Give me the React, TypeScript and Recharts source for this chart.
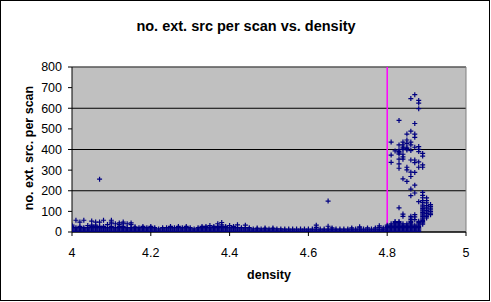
import {
  CartesianGrid,
  ReferenceLine,
  Scatter,
  ScatterChart,
  XAxis,
  YAxis
} from 'recharts';

// scan density columns below the 4.8 cut, 0.01 apart
const lowDensity = [
  4.0, 4.01, 4.02, 4.03, 4.04, 4.05, 4.06, 4.07, 4.08, 4.09,
  4.1, 4.11, 4.12, 4.13, 4.14, 4.15, 4.16, 4.17, 4.18, 4.19,
  4.2, 4.21, 4.22, 4.23, 4.24, 4.25, 4.26, 4.27, 4.28, 4.29,
  4.3, 4.31, 4.32, 4.33, 4.34, 4.35, 4.36, 4.37, 4.38, 4.39,
  4.4, 4.41, 4.42, 4.43, 4.44, 4.45, 4.46, 4.47, 4.48, 4.49,
  4.5, 4.51, 4.52, 4.53, 4.54, 4.55, 4.56, 4.57, 4.58, 4.59,
  4.6, 4.61, 4.62, 4.63, 4.64, 4.65, 4.66, 4.67, 4.68, 4.69,
  4.7, 4.71, 4.72, 4.73, 4.74, 4.75, 4.76, 4.77, 4.78, 4.79
];

const lowCounts = [
  [3, 9, 15, 21, 27, 33], [3, 9, 15, 21, 57], [3, 9, 15, 21, 27, 48], [3, 9, 15, 21, 57],
  [3, 9, 15, 21, 31], [3, 9, 15, 21, 27, 33, 53], [3, 9, 15, 21, 27, 33, 48], [3, 9, 15, 21, 27, 48, 256],
  [3, 9, 15, 21, 27, 57], [3, 9, 15, 21, 36],
  [3, 9, 15, 21, 27, 40, 48, 57], [3, 9, 15, 21, 40], [3, 9, 15, 21, 27, 36, 44], [3, 9, 15, 21, 27, 40, 48],
  [3, 9, 15, 21, 40], [3, 9, 15, 21, 36, 44], [3, 9, 15, 21, 25], [3, 9, 15, 21],
  [3, 9, 15, 21, 27], [3, 9, 15, 21],
  [3, 9, 15, 21, 27], [3, 9, 15, 21], [3, 9, 15], [3, 9, 15, 21],
  [3, 9, 15, 21], [3, 9, 15, 21, 27], [3, 9, 15, 21], [3, 9, 15, 21, 27],
  [3, 9, 15, 21], [3, 9, 15, 21, 27],
  [3, 9, 15, 21], [3, 9, 15], [3, 9, 15, 21], [3, 9, 15, 21, 27],
  [3, 9, 15, 21, 27], [3, 9, 15, 21, 31], [3, 9, 15, 21, 27], [3, 9, 15, 21, 27, 40],
  [3, 9, 15, 21, 27, 35, 46], [3, 9, 15, 21, 27],
  [3, 9, 15, 21, 31], [3, 9, 15, 21, 27], [3, 9, 15, 21, 35], [3, 9, 15, 21],
  [3, 9, 15, 21, 33], [3, 9, 15, 21], [3, 9, 15], [3, 9, 15, 19],
  [3, 9, 15], [3, 9, 15, 19],
  [3, 9, 15], [3, 9, 15, 19], [3, 9, 15], [3, 9, 15],
  [3, 9, 14], [3, 9, 14], [3, 9, 14], [3, 9, 14],
  [3, 9, 14], [3, 9, 14],
  [3, 9, 14], [3, 9, 14], [3, 9, 14, 22, 33], [3, 9, 14],
  [3, 9, 14], [3, 9, 14, 28, 150], [3, 9, 14, 20], [3, 9, 14],
  [3, 9, 14], [3, 9, 14],
  [3, 9, 14], [3, 9, 14, 20], [3, 9, 14], [3, 9, 14, 20, 25],
  [3, 9, 14], [3, 9, 14, 20], [3, 9, 14], [3, 9, 14, 20],
  [3, 9, 14, 22, 30], [3, 9, 14, 20]
];

// the dense group just above the cut
const peakDensity = [4.8, 4.81, 4.82, 4.83, 4.84, 4.85, 4.86, 4.87, 4.88, 4.89, 4.9, 4.91];

const peakCounts = [
  [3, 9, 15, 21, 27, 33],
  [3, 9, 15, 21, 27, 33, 40, 338, 373, 436],
  [3, 9, 15, 21, 27, 33, 39, 45, 51, 393],
  [3, 9, 15, 21, 27, 33, 39, 45, 51, 117, 309, 330, 353, 378, 384, 390, 398, 422, 541],
  [3, 9, 15, 21, 27, 33, 40, 76, 87, 258, 353, 364, 377, 400, 406, 412, 422, 436],
  [3, 9, 15, 21, 27, 33, 40, 245, 301, 314, 398, 404, 411, 430, 446, 475],
  [3, 9, 15, 21, 27, 33, 39, 45, 52, 60, 68, 76, 176, 208, 269, 290, 349, 395, 422, 436, 489, 647],
  [3, 9, 15, 21, 27, 33, 60, 73, 84, 189, 227, 289, 336, 349, 411, 459, 475, 526, 666],
  [3, 9, 15, 21, 27, 33, 39, 45, 52, 147, 314, 340, 390, 401, 414, 598, 625, 638],
  [38, 44, 50, 56, 62, 68, 75, 82, 88, 95, 102, 108, 115, 122, 130, 142, 152, 166, 178, 192, 314, 325, 368, 381],
  [68, 75, 82, 90, 97, 104, 112, 120, 128, 141, 152, 165],
  [84, 92, 100, 108, 116, 124, 133]
];

const xTicks = [4, 4.2, 4.4, 4.6, 4.8, 5];
const yTicks = [0, 100, 200, 300, 400, 500, 600, 700, 800];

const toPoints = (dens: number[], counts: number[][]) =>
  dens.flatMap((d, i) => counts[i].map((c) => ({ density: d, count: c })));

const points = [...toPoints(lowDensity, lowCounts), ...toPoints(peakDensity, peakCounts)];

const font = '"Liberation Sans", Arial, sans-serif';

const PlusMark = (props: any) => {
  const { cx, cy } = props;
  if (cx == null || cy == null) return null;
  return (
    <path
      d={`M${cx - 2.5},${cy} h5 M${cx},${cy - 2.5} v5`}
      stroke="#000080"
      strokeWidth={1.2}
      fill="none"
    />
  );
};

const App = () => {
  return (
    <div style={{ position: 'absolute', left: 0, top: 0, width: 491, height: 302, background: '#fff' }}>
      <ScatterChart
        width={491}
        height={302}
        margin={{ top: 67, right: 25, bottom: 40, left: 0 }}
      >
        <CartesianGrid vertical={false} stroke="#000" fill="#C0C0C0" fillOpacity={1} />
        <XAxis
          type="number"
          dataKey="density"
          domain={[4, 5]}
          ticks={xTicks}
          height={30}
          stroke="#000"
          tickSize={4}
          tickMargin={12}
          tick={{ fill: '#000', fontSize: 12.5, fontFamily: font }}
          allowDataOverflow
        />
        <YAxis
          type="number"
          dataKey="count"
          domain={[0, 800]}
          ticks={yTicks}
          width={72}
          stroke="#000"
          tickSize={4}
          tickMargin={6}
          tick={{ fill: '#000', fontSize: 12.5, fontFamily: font }}
          allowDataOverflow
        />
        <ReferenceLine y={800} stroke="#808080" />
        <ReferenceLine x={5} stroke="#808080" />
        <Scatter data={points} shape={<PlusMark />} isAnimationActive={false} />
        <ReferenceLine x={4.8} stroke="#FF00FF" strokeWidth={1.5} />
      </ScatterChart>
      <svg
        width={491}
        height={302}
        style={{ position: 'absolute', left: 0, top: 0, pointerEvents: 'none' }}
      >
        <rect x={0.5} y={0.5} width={489} height={300} fill="none" stroke="#000" />
        <text x={246} y={31} textAnchor="middle" fontFamily={font} fontSize={14.5} fontWeight="bold">
          no. ext. src per scan vs. density
        </text>
        <text x={269} y={279} textAnchor="middle" fontFamily={font} fontSize={12.5} fontWeight="bold">
          density
        </text>
        <text
          x={0}
          y={0}
          transform="translate(33,148) rotate(-90)"
          textAnchor="middle"
          fontFamily={font}
          fontSize={12.5}
          fontWeight="bold"
        >
          no. ext. src. per scan
        </text>
      </svg>
    </div>
  );
};

export default App;
